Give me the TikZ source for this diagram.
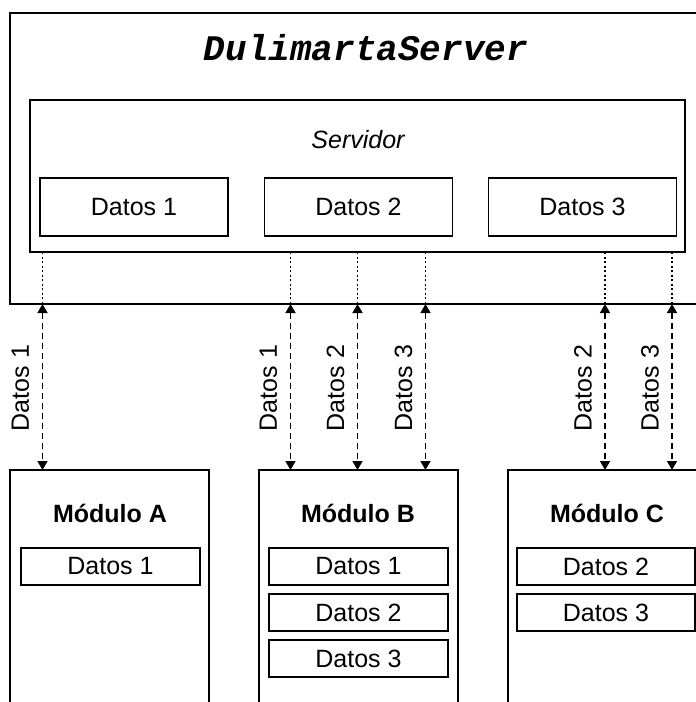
\documentclass[tikz,border=0pt]{standalone}
\usepackage{fontspec}
\setmainfont{Liberation Sans}
\newfontfamily\titlefont{Liberation Mono}
\usetikzlibrary{arrows.meta,calc}
\begin{document}
\begin{tikzpicture}[x=1pt,y=-1pt,
  every node/.style={inner sep=0pt,outer sep=0pt},
  frame/.style={draw,line width=1.6pt,rectangle},
  txt/.style={font=\fontsize{25}{25}\selectfont},
  databox/.style={draw,line width=1.4pt,rectangle,txt},
  modbox/.style={draw,line width=1.6pt,rectangle,minimum width=199pt,minimum height=260pt},
  modtitle/.style={font=\fontsize{25}{25}\selectfont\bfseries},
  link/.style={line width=1.5pt,dash pattern=on 6pt off 4pt,{Triangle[length=9pt,width=10pt]}-{Triangle[length=9pt,width=10pt]}},
  tap/.style={line width=1.6pt,dash pattern=on 2pt off 2.5pt},
  linklabel/.style={rotate=90,txt}]
\useasboundingbox (0,0) rectangle (696,702);
\clip (0,0) rectangle (696,702);
\fill[white] (0,0) rectangle (696,702);

% server frame and inner server box
\node[frame,minimum width=700pt,minimum height=291pt] (server) at (360,158.5) {};
\node[font=\titlefont\fontsize{36}{36}\selectfont\bfseries\itshape] (title) at (366,48) {DulimartaServer};
\node[frame,line width=1.4pt,minimum width=655pt,minimum height=152pt] (srv) at (357.5,176) {};
\node[txt,font=\fontsize{25}{25}\selectfont\itshape] (srvlabel) at (358,140) {Servidor};
\node[databox,minimum width=188pt,minimum height=58pt] (s1) at (134,207) {Datos 1};
\node[databox,minimum width=188pt,minimum height=58pt] (s2) at (358.5,207) {Datos 2};
\node[databox,minimum width=188pt,minimum height=58pt] (s3) at (582.5,207) {Datos 3};

% modules
\node[modbox] (modA) at (109.5,600) {};
\node[modbox] (modB) at (358.5,600) {};
\node[modbox,minimum width=201pt] (modC) at (608.5,600) {};
\node[modtitle] (tA) at (110,513) {Módulo A};
\node[modtitle] (tB) at (358,513) {Módulo B};
\node[modtitle] (tC) at (607,513) {Módulo C};

\node[databox,minimum width=179pt,minimum height=37pt] (a1) at (110.5,566.5) {Datos 1};
\node[databox,minimum width=179pt,minimum height=37pt] (b1) at (358.5,566.5) {Datos 1};
\node[databox,minimum width=179pt,minimum height=37pt] (b2) at (358.5,612.5) {Datos 2};
\node[databox,minimum width=179pt,minimum height=37pt] (b3) at (358.5,658.5) {Datos 3};
\node[databox,minimum width=178pt,minimum height=37pt] (c2) at (606,566.5) {Datos 2};
\node[databox,minimum width=178pt,minimum height=37pt] (c3) at (606,612.5) {Datos 3};

% link columns
\coordinate (xA1) at (42.5,0);
\coordinate (xB1) at (290.5,0);
\coordinate (xB2) at (357.5,0);
\coordinate (xB3) at (425.5,0);
\coordinate (xC2) at (605,0);
\coordinate (xC3) at (672,0);

\foreach \c/\m/\t in {xA1/modA/Datos 1,xB1/modB/Datos 1,xB2/modB/Datos 2,xB3/modB/Datos 3,xC2/modC/Datos 2,xC3/modC/Datos 3}{
  \draw[tap] (srv.south -| \c) -- (server.south -| \c);
  \draw[link] (server.south -| \c) -- (\m.north -| \c)
    node[midway,linklabel,xshift=-1pt,yshift=22pt] {\t};
}
\end{tikzpicture}
\end{document}
